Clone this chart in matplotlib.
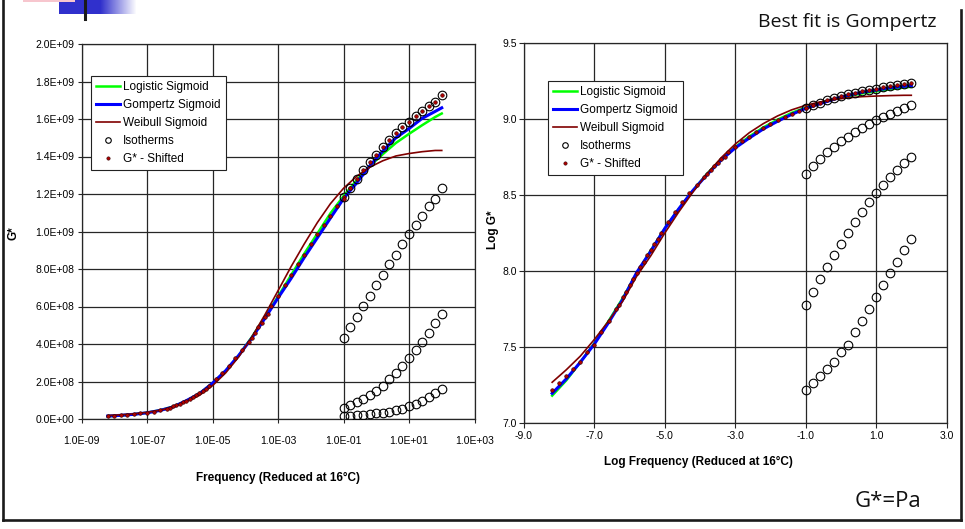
import numpy as np
import matplotlib
matplotlib.use("Agg")
import matplotlib.pyplot as plt
from matplotlib.lines import Line2D
from matplotlib.patches import Rectangle
from matplotlib.ticker import FixedLocator, FuncFormatter, NullLocator

plt.rcParams['font.family'] = ['Liberation Sans', 'DejaVu Sans']

# ---------------- data ----------------
iso_log_freq = [-1.0, -0.8, -0.6, -0.4, -0.2, 0.0, 0.2, 0.4,
                0.6, 0.8, 1.0, 1.2, 1.4, 1.6, 1.8, 2.0]
iso1_logG = [9.074, 9.090, 9.108, 9.123, 9.137, 9.149, 9.162, 9.173,
             9.183, 9.193, 9.200, 9.208, 9.216, 9.223, 9.228, 9.238]
iso2_logG = [8.636, 8.691, 8.737, 8.781, 8.818, 8.853, 8.884, 8.917,
             8.943, 8.969, 8.993, 9.015, 9.035, 9.055, 9.070, 9.090]
iso3_logG = [7.776, 7.860, 7.947, 8.028, 8.105, 8.178, 8.252, 8.325,
             8.386, 8.454, 8.515, 8.566, 8.616, 8.664, 8.708, 8.750]
iso4_logG = [7.215, 7.261, 7.309, 7.353, 7.403, 7.469, 7.513, 7.597,
             7.673, 7.748, 7.827, 7.908, 7.989, 8.061, 8.138, 8.209]
shift_log_aT = [0.0, -2.8, -5.3, -7.2]

fit_log_freq = [-8.2, -7.8, -7.4, -7.0, -6.6, -6.2, -5.8, -5.4, -5.0, -4.6,
                -4.2, -3.8, -3.4, -3.0, -2.6, -2.2, -1.8, -1.4, -1.0, -0.6,
                -0.2, 0.2, 0.6, 1.0, 1.4, 1.8, 2.0]
logistic_logG = [7.180, 7.280, 7.400, 7.525, 7.670, 7.820, 7.985, 8.135, 8.280, 8.410,
                 8.530, 8.640, 8.735, 8.815, 8.885, 8.945, 8.995, 9.040, 9.075, 9.105,
                 9.130, 9.150, 9.168, 9.182, 9.195, 9.207, 9.212]
gompertz_logG = [7.195, 7.290, 7.400, 7.520, 7.660, 7.810, 7.990, 8.130, 8.280, 8.410,
                 8.530, 8.635, 8.730, 8.810, 8.875, 8.935, 8.985, 9.030, 9.070, 9.100,
                 9.130, 9.155, 9.176, 9.190, 9.205, 9.215, 9.220]
weibull_logG = [7.268, 7.350, 7.440, 7.550, 7.670, 7.800, 7.965, 8.100, 8.250, 8.390,
                8.520, 8.640, 8.745, 8.835, 8.910, 8.970, 9.020, 9.060, 9.090, 9.112,
                9.128, 9.139, 9.147, 9.151, 9.154, 9.156, 9.156]

legend_labels = ["Logistic Sigmoid", "Gompertz Sigmoid", "Weibull Sigmoid",
                 "Isotherms", "G* - Shifted"]
left_xticks = [1e-9, 1e-7, 1e-5, 1e-3, 1e-1, 1e1, 1e3]
left_yticks = [0, 2e8, 4e8, 6e8, 8e8, 1e9, 1.2e9, 1.4e9, 1.6e9, 1.8e9, 2e9]
right_xticks = [-9, -7, -5, -3, -1, 1, 3]
right_yticks = [7.0, 7.5, 8.0, 8.5, 9.0, 9.5]

# ---------------- figure ----------------
W, H = 965, 529
fig = plt.figure(figsize=(W / 100, H / 100), dpi=100)
fig.patch.set_facecolor('white')


def px_rect(x0, y0, x1, y1):
    return [x0 / W, 1 - y1 / H, (x1 - x0) / W, (y1 - y0) / H]


axL = fig.add_axes(px_rect(81.5, 44, 474.5, 419))
axR = fig.add_axes(px_rect(524, 43, 946.5, 423))

iso_sets = [iso1_logG, iso2_logG, iso3_logG, iso4_logG]
C_LOG, C_GOM, C_WEI = '#00FF00', '#0000FF', '#800000'
DOT_FC, DOT_EC = '#B00000', '#300000'

lf = np.array(fit_log_freq)
for ax, use_lin in ((axL, True), (axR, False)):
    def tx(v):
        return 10 ** np.asarray(v) if use_lin else np.asarray(v)
    ax.plot(tx(lf), tx(logistic_logG), color=C_LOG, lw=1.8, zorder=3)
    ax.plot(tx(lf), tx(gompertz_logG), color=C_GOM, lw=2.2, zorder=4)
    ax.plot(tx(lf), tx(weibull_logG), color=C_WEI, lw=1.2, zorder=5)
    for s in iso_sets:
        ax.plot(tx(iso_log_freq), tx(s), ls='none', marker='o', mfc='none',
                mec='black', ms=6.2, mew=0.8, zorder=6)
    for s, sh in zip(iso_sets, shift_log_aT):
        xs = np.array(iso_log_freq) + sh
        ax.plot(tx(xs), tx(s), ls='none', marker='o', mfc=DOT_FC, mec=DOT_EC,
                ms=2.6, mew=0.4, zorder=7)

# left axes formatting
axL.set_xscale('log')
axL.set_xlim(1e-9, 1e3)
axL.set_ylim(0, 2e9)
axL.xaxis.set_major_locator(FixedLocator(left_xticks))
axL.xaxis.set_minor_locator(NullLocator())
axL.xaxis.set_major_formatter(FuncFormatter(lambda v, p: f"{v:.1E}"))
axL.yaxis.set_major_locator(FixedLocator(left_yticks))
axL.yaxis.set_major_formatter(FuncFormatter(lambda v, p: f"{v:.1E}"))

axR.set_xlim(-9, 3)
axR.set_ylim(7.0, 9.5)
axR.xaxis.set_major_locator(FixedLocator(right_xticks))
axR.yaxis.set_major_locator(FixedLocator(right_yticks))
axR.xaxis.set_major_formatter(FuncFormatter(lambda v, p: f"{v:.1f}".replace('\u2212', '-')))
axR.yaxis.set_major_formatter(FuncFormatter(lambda v, p: f"{v:.1f}"))

for ax in (axL, axR):
    ax.set_axisbelow(True)
    ax.grid(True, which='major', color='#262626', lw=0.9)
    for sp in ax.spines.values():
        sp.set_color('#262626')
        sp.set_linewidth(0.9)
    ax.tick_params(axis='both', labelsize=7.5, direction='out', length=3,
                   width=0.8, color='#262626')

axL.tick_params(axis='x', pad=9.0)
axL.tick_params(axis='y', pad=2)
axR.tick_params(axis='x', pad=2.5, length=3.5)
axR.tick_params(axis='y', pad=1.5, length=3.5)

# axis labels
lab_kw = dict(fontsize=8.5, fontweight='bold')
axL.set_xlabel("Frequency (Reduced at 16\u00b0C)", **lab_kw)
axL.xaxis.set_label_coords(0.5, -(478 - 419) / 375)
axL.xaxis.label.set_verticalalignment('center')
axL.set_ylabel("G*", **lab_kw)
axL.yaxis.set_label_coords((14 - 81.5) / 393, 1 - (233.5 - 44) / 375)
axL.yaxis.label.set_verticalalignment('center')

axR.set_xlabel("Log Frequency (Reduced at 16\u00b0C)", **lab_kw)
axR.xaxis.set_label_coords((698 - 524) / 422.5, -(462 - 423) / 380)
axR.xaxis.label.set_verticalalignment('center')
axR.set_ylabel("Log G*", **lab_kw)
axR.yaxis.set_label_coords((493 - 524) / 422.5, 1 - (230 - 43) / 380)
axR.yaxis.label.set_verticalalignment('center')

# legends
handles = [
    Line2D([], [], color=C_LOG, lw=1.8),
    Line2D([], [], color=C_GOM, lw=2.2),
    Line2D([], [], color=C_WEI, lw=1.2),
    Line2D([], [], ls='none', marker='o', mfc='none', mec='black', ms=4, mew=0.8),
    Line2D([], [], ls='none', marker='o', mfc=DOT_FC, mec=DOT_EC, ms=2.4, mew=0.4),
]
leg_kw = dict(loc='upper left', fontsize=8.5, frameon=True, fancybox=False,
              framealpha=1, edgecolor='#222222', borderpad=0.45,
              labelspacing=0.5, handlelength=2.0, handletextpad=0.25,
              borderaxespad=0)
legL = axL.legend(handles, legend_labels,
                  bbox_to_anchor=((91 - 81.5) / 393, 1 - (76 - 44) / 375), **leg_kw)
legR = axR.legend(handles, legend_labels,
                  bbox_to_anchor=((548 - 524) / 422.5, 1 - (81 - 43) / 380), **leg_kw)
for lg in (legL, legR):
    lg.get_frame().set_linewidth(0.8)
    lg.set_zorder(10)

# slide decorations
fig.text(937 / W, 1 - 27 / H, "Best fit is Gompertz", ha='right', va='baseline',
         fontsize=14, family=['Open Sans', 'DejaVu Sans'], color='#111111')
fig.text(855 / W, 1 - 507 / H, "G*=Pa", ha='left', va='baseline',
         fontsize=16, family=['Open Sans', 'DejaVu Sans'], color='#111111')

frame_kw = dict(color='#1a1a1a', lw=1.9, transform=fig.transFigure)
fig.add_artist(Line2D([3 / W, 3 / W], [1, 1 - 520 / H], **frame_kw))
fig.add_artist(Line2D([3 / W, 961 / W], [1 - 520 / H, 1 - 520 / H], **frame_kw))
fig.add_artist(Line2D([961 / W, 961 / W], [1 - 10 / H, 1 - 520 / H], **frame_kw))

ax_logo = fig.add_axes(px_rect(59, 0, 137, 14))
t = np.clip((np.arange(78) - 41) / 36.0, 0, 1)
blue = np.array([0.19, 0.19, 0.80])
grad = blue[None, :] * (1 - t[:, None]) + np.ones(3)[None, :] * t[:, None]
ax_logo.imshow(grad[None, :, :], aspect='auto', extent=(0, 1, 0, 1))
ax_logo.axis('off')
fig.add_artist(Rectangle((23 / W, 1 - 2 / H), 52 / W, 2 / H, transform=fig.transFigure,
                         color='#F7C6CE', lw=0))
fig.add_artist(Line2D([85 / W, 85 / W], [1, 1 - 19 / H], color='#1a1a1a', lw=2.2,
                      transform=fig.transFigure))

fig.savefig("out.png", dpi=100)
